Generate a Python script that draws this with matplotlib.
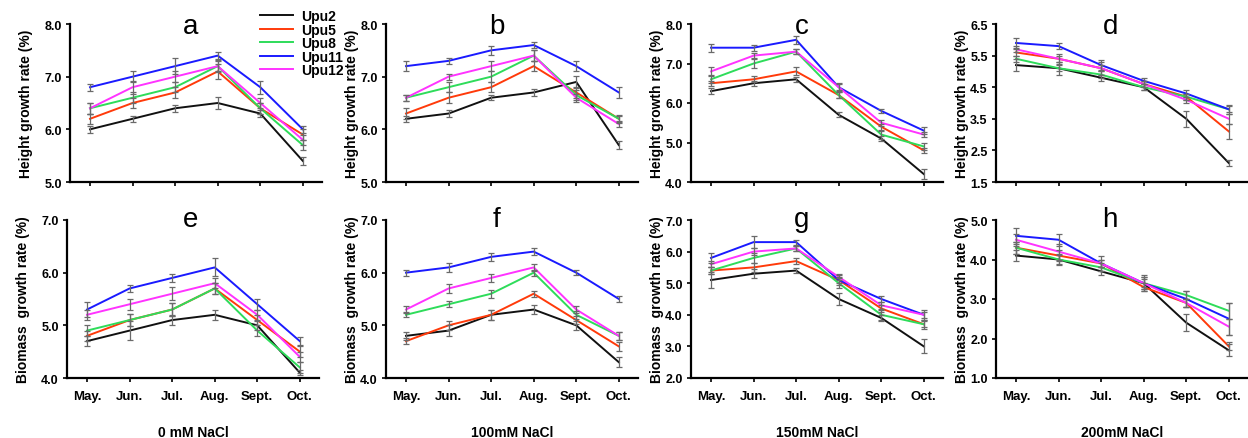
import numpy as np
import matplotlib
matplotlib.use("Agg")
import matplotlib.pyplot as plt

plt.rcParams['font.family'] = ['Liberation Sans', 'DejaVu Sans']

months = ['May.', 'Jun.', 'Jul.', 'Aug.', 'Sept.', 'Oct.']
lines = ['Upu2', 'Upu5', 'Upu8', 'Upu11', 'Upu12']
colors = ['#111111', '#ff3a0a', '#2edc5a', '#1a1aff', '#ff33ff']
salt = ['0 mM NaCl', '100mM NaCl', '150mM NaCl', '200mM NaCl']

# height growth rate (%), rows follow `lines`
height_a = [[6.0, 6.2, 6.4, 6.5, 6.3, 5.4],
            [6.2, 6.5, 6.7, 7.1, 6.4, 5.9],
            [6.4, 6.6, 6.8, 7.2, 6.4, 5.7],
            [6.8, 7.0, 7.2, 7.4, 6.8, 6.0],
            [6.4, 6.8, 7.0, 7.2, 6.5, 5.8]]
height_b = [[6.2, 6.3, 6.6, 6.7, 6.9, 5.7],
            [6.3, 6.6, 6.8, 7.2, 6.7, 6.2],
            [6.6, 6.8, 7.0, 7.4, 6.65, 6.2],
            [7.2, 7.3, 7.5, 7.6, 7.2, 6.7],
            [6.6, 7.0, 7.2, 7.4, 6.6, 6.1]]
height_c = [[6.3, 6.5, 6.6, 5.7, 5.1, 4.2],
            [6.5, 6.6, 6.8, 6.2, 5.4, 4.8],
            [6.6, 7.0, 7.3, 6.2, 5.2, 4.9],
            [7.4, 7.4, 7.6, 6.4, 5.8, 5.3],
            [6.8, 7.2, 7.3, 6.4, 5.5, 5.2]]
height_d = [[5.2, 5.1, 4.8, 4.5, 3.5, 2.1],
            [5.6, 5.4, 5.1, 4.6, 4.2, 3.1],
            [5.4, 5.1, 4.9, 4.5, 4.2, 3.8],
            [5.9, 5.8, 5.2, 4.7, 4.3, 3.8],
            [5.7, 5.4, 5.1, 4.6, 4.1, 3.5]]

# biomass growth rate (%)
biomass_e = [[4.7, 4.9, 5.1, 5.2, 5.0, 4.1],
             [4.8, 5.1, 5.3, 5.7, 5.1, 4.5],
             [4.9, 5.1, 5.3, 5.7, 4.9, 4.2],
             [5.3, 5.7, 5.9, 6.1, 5.4, 4.7],
             [5.2, 5.4, 5.6, 5.8, 5.2, 4.4]]
biomass_f = [[4.8, 4.9, 5.2, 5.3, 5.0, 4.3],
             [4.7, 5.0, 5.2, 5.6, 5.1, 4.6],
             [5.2, 5.4, 5.6, 6.0, 5.2, 4.8],
             [6.0, 6.1, 6.3, 6.4, 6.0, 5.5],
             [5.3, 5.7, 5.9, 6.1, 5.3, 4.8]]
biomass_g = [[5.1, 5.3, 5.4, 4.5, 3.9, 3.0],
             [5.4, 5.5, 5.7, 5.1, 4.2, 3.7],
             [5.4, 5.8, 6.1, 5.0, 4.0, 3.7],
             [5.8, 6.3, 6.3, 5.1, 4.5, 4.0],
             [5.6, 6.0, 6.1, 5.2, 4.3, 4.0]]
biomass_h = [[4.1, 4.0, 3.7, 3.4, 2.4, 1.7],
             [4.3, 4.1, 3.9, 3.3, 2.9, 1.8],
             [4.3, 4.0, 3.8, 3.4, 3.1, 2.7],
             [4.6, 4.5, 3.9, 3.4, 3.0, 2.5],
             [4.5, 4.2, 3.9, 3.4, 2.9, 2.3]]

# rough error bar half-lengths
err_a = [[0.07, 0.06, 0.07, 0.12, 0.07, 0.07],
         [0.10, 0.10, 0.10, 0.15, 0.10, 0.10],
         [0.10, 0.10, 0.10, 0.12, 0.10, 0.10],
         [0.07, 0.10, 0.15, 0.07, 0.12, 0.07],
         [0.10, 0.12, 0.10, 0.10, 0.10, 0.10]]
err_b = [[0.06, 0.07, 0.05, 0.06, 0.12, 0.08],
         [0.10, 0.10, 0.10, 0.10, 0.10, 0.08],
         [0.06, 0.10, 0.10, 0.10, 0.10, 0.06],
         [0.10, 0.06, 0.08, 0.06, 0.10, 0.10],
         [0.06, 0.06, 0.10, 0.10, 0.08, 0.06]]
err_c = [[0.08, 0.06, 0.06, 0.06, 0.06, 0.12],
         [0.06, 0.08, 0.10, 0.08, 0.08, 0.06],
         [0.10, 0.12, 0.06, 0.08, 0.10, 0.10],
         [0.10, 0.08, 0.10, 0.10, 0.06, 0.08],
         [0.12, 0.06, 0.06, 0.08, 0.08, 0.06]]
err_d = [[0.20, 0.20, 0.10, 0.10, 0.25, 0.10],
         [0.10, 0.10, 0.10, 0.10, 0.10, 0.25],
         [0.10, 0.10, 0.10, 0.10, 0.10, 0.10],
         [0.15, 0.10, 0.15, 0.10, 0.10, 0.15],
         [0.10, 0.15, 0.20, 0.10, 0.10, 0.15]]
err_e = [[0.10, 0.18, 0.10, 0.10, 0.08, 0.05],
         [0.10, 0.12, 0.12, 0.10, 0.10, 0.10],
         [0.10, 0.12, 0.12, 0.10, 0.10, 0.10],
         [0.15, 0.06, 0.08, 0.17, 0.10, 0.08],
         [0.10, 0.10, 0.12, 0.10, 0.10, 0.10]]
err_f = [[0.08, 0.10, 0.10, 0.08, 0.08, 0.10],
         [0.06, 0.08, 0.10, 0.06, 0.08, 0.08],
         [0.05, 0.06, 0.08, 0.06, 0.08, 0.08],
         [0.06, 0.08, 0.08, 0.06, 0.05, 0.06],
         [0.06, 0.08, 0.08, 0.06, 0.06, 0.08]]
err_g = [[0.25, 0.15, 0.08, 0.20, 0.10, 0.22],
         [0.10, 0.15, 0.10, 0.15, 0.10, 0.10],
         [0.10, 0.15, 0.08, 0.15, 0.15, 0.15],
         [0.15, 0.20, 0.08, 0.10, 0.10, 0.15],
         [0.10, 0.10, 0.08, 0.10, 0.12, 0.10]]
err_h = [[0.15, 0.12, 0.10, 0.20, 0.22, 0.15],
         [0.15, 0.15, 0.10, 0.10, 0.10, 0.10],
         [0.15, 0.15, 0.10, 0.10, 0.10, 0.20],
         [0.20, 0.15, 0.20, 0.15, 0.20, 0.40],
         [0.15, 0.20, 0.10, 0.15, 0.10, 0.20]]

panels = [
    ('a', height_a, err_a, (5.0, 8.0), [5.0, 6.0, 7.0, 8.0]),
    ('b', height_b, err_b, (5.0, 8.0), [5.0, 6.0, 7.0, 8.0]),
    ('c', height_c, err_c, (4.0, 8.0), [4.0, 5.0, 6.0, 7.0, 8.0]),
    ('d', height_d, err_d, (1.5, 6.5), [1.5, 2.5, 3.5, 4.5, 5.5, 6.5]),
    ('e', biomass_e, err_e, (4.0, 7.0), [4.0, 5.0, 6.0, 7.0]),
    ('f', biomass_f, err_f, (4.0, 7.0), [4.0, 5.0, 6.0, 7.0]),
    ('g', biomass_g, err_g, (2.0, 7.0), [2.0, 3.0, 4.0, 5.0, 6.0, 7.0]),
    ('h', biomass_h, err_h, (1.0, 5.0), [1.0, 2.0, 3.0, 4.0, 5.0]),
]

W, H = 1248, 439
fig = plt.figure(figsize=(W / 100, H / 100), dpi=100)

lefts = [70, 386, 691, 996, 67, 386, 691, 996]
letter_x = [0.48, 0.44, 0.44, 0.455, 0.49, 0.44, 0.44, 0.45]
x = np.arange(len(months))

for i, (letter, data, err, ylim, yticks) in enumerate(panels):
    top = 25 if i < 4 else 221
    left = lefts[i]
    ax = fig.add_axes([left / W, 1 - (top + 158) / H, 252 / W, 158 / H])
    for j in range(len(lines)):
        ax.plot(x, data[j], color=colors[j], lw=1.4, label=lines[j], zorder=2)
        ax.errorbar(x, data[j], yerr=err[j], fmt='none', ecolor='#6a6a6a',
                    elinewidth=0.9, capsize=2.3, capthick=0.9, zorder=3)
    ax.set_xlim(-0.47, 5.45)
    ax.set_ylim(*ylim)
    ax.set_yticks(yticks)
    ax.set_yticklabels([f'{v:.1f}' for v in yticks], fontsize=9, fontweight='bold')
    ax.set_xticks(x)
    if i >= 4:
        ax.set_xticklabels(months, fontsize=9.5, fontweight='bold')
        ax.set_xlabel(salt[i - 4], fontsize=10, fontweight='bold', labelpad=16)
    else:
        ax.set_xticklabels([])
    ax.tick_params(axis='both', direction='out', length=3, width=1.2, pad=3)
    ax.tick_params(axis='x', pad=6)
    for s in ['top', 'right']:
        ax.spines[s].set_visible(False)
    for s in ['left', 'bottom']:
        ax.spines[s].set_linewidth(1.6)
    ylab = 'Height growth rate (%)' if i < 4 else 'Biomass  growth rate (%)'
    ax.set_ylabel(ylab, fontsize=10, fontweight='bold', labelpad=8 if i in (0, 4) else 1)
    ax.text(letter_x[i], 0.94 if i < 4 else 0.96, letter, transform=ax.transAxes,
            ha='center', va='baseline', fontsize=20)
    if i == 0:
        ax.legend(loc='upper left', bbox_to_anchor=(0.73, 1.13), frameon=False,
                  prop={'weight': 'bold', 'size': 10}, handlelength=2.4,
                  handletextpad=0.6, labelspacing=-0.03, borderaxespad=0)

fig.savefig('out.png', dpi=100)
